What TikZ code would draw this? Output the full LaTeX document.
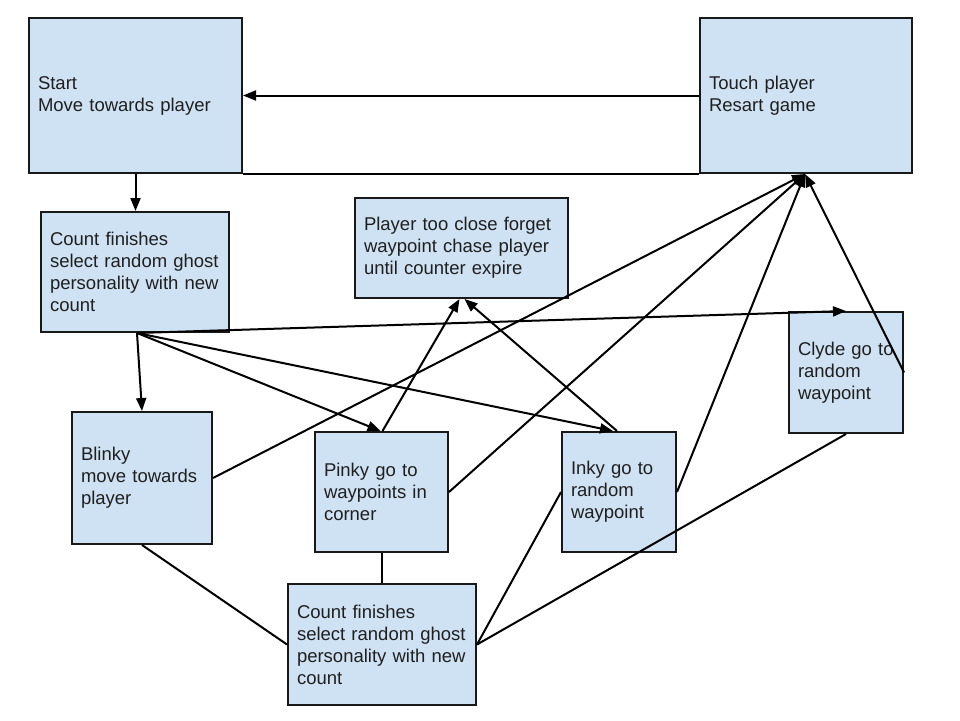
\documentclass[tikz,border=0pt]{standalone}
\usepackage{fontspec}
\setmainfont{Liberation Sans}
\usetikzlibrary{arrows.meta,calc}
\definecolor{boxfill}{HTML}{CFE2F3}
\begin{document}
\begin{tikzpicture}[x=1pt,y=-1pt,
  box/.style={draw=black!90, fill=boxfill, line width=2pt, rectangle, inner xsep=9pt, inner ysep=0pt,
    align=left, font=\fontsize{18.5}{22}\selectfont, text=black!88},
  conn/.style={line width=2pt, draw=black},
  arr/.style={conn, -{Triangle[length=13pt,width=10pt]}}]
\useasboundingbox[fill=white] (0,0) rectangle (960,720);

\node[box, minimum width=213pt, minimum height=155pt, text width=195pt] (start) at (135.5,95.5) {Start\\Move towards player};
\node[box, minimum width=212pt, minimum height=155pt, text width=194pt] (touch) at (806,95.5) {Touch player\\Resart game};
\node[box, minimum width=188pt, minimum height=120pt, text width=170pt] (count1) at (135,272) {Count finishes\\select random ghost\\personality with new\\count};
\node[box, minimum width=213pt, minimum height=100pt, text width=195pt] (ptc) at (461.5,248) {Player too close forget\\waypoint chase player\\until counter expire};
\node[box, minimum width=114pt, minimum height=121pt, text width=96pt] (clyde) at (846,372.5) {Clyde go to\\random\\waypoint};
\node[box, minimum width=140pt, minimum height=132pt, text width=122pt] (blinky) at (142,478) {Blinky\\move towards\\player};
\node[box, minimum width=133pt, minimum height=120pt, text width=115pt] (pinky) at (381.5,492) {Pinky go to\\waypoints in\\corner};
\node[box, minimum width=114pt, minimum height=120pt, text width=96pt] (inky) at (619,492) {Inky go to\\random\\waypoint};
\node[box, minimum width=188pt, minimum height=121pt, text width=170pt] (count2) at (382,644.5) {Count finishes\\select random ghost\\personality with new\\count};

\coordinate (fan) at ($(count1.south)+(2,0)$);
\coordinate (hit) at ($(touch.south)+(-1,0)$);

\draw[arr] (touch.west) -- (start.east);
\draw[conn] (start.south east) -- (touch.south west);
\draw[arr] (start.south) -- (start.south |- count1.north);

\draw[arr] (fan) -- (blinky.north);
\draw[arr] (fan) -- ($(pinky.north)+(-1,0)$);
\draw[arr] (fan) -- ($(inky.north)+(-6,0)$);
\draw[arr] (fan) -- (clyde.north);

\draw[arr] (blinky.east) -- (hit);
\draw[arr] (pinky.east) -- (hit);
\draw[arr] (inky.east) -- (hit);
\draw[arr] (clyde.east) -- (hit);

\draw[arr] ($(pinky.north)+(1,0)$) -- ($(ptc.south)+(-2,0)$);
\draw[arr] ($(inky.north)+(-2,0)$) -- ($(ptc.south)+(3,0)$);

\draw[conn] (count2.east) -- (inky.west);
\draw[conn] (count2.east) -- (clyde.south);
\draw[conn] (blinky.south) -- (count2.west);
\draw[conn] (pinky.south) -- (pinky.south |- count2.north);
\end{tikzpicture}
\end{document}
